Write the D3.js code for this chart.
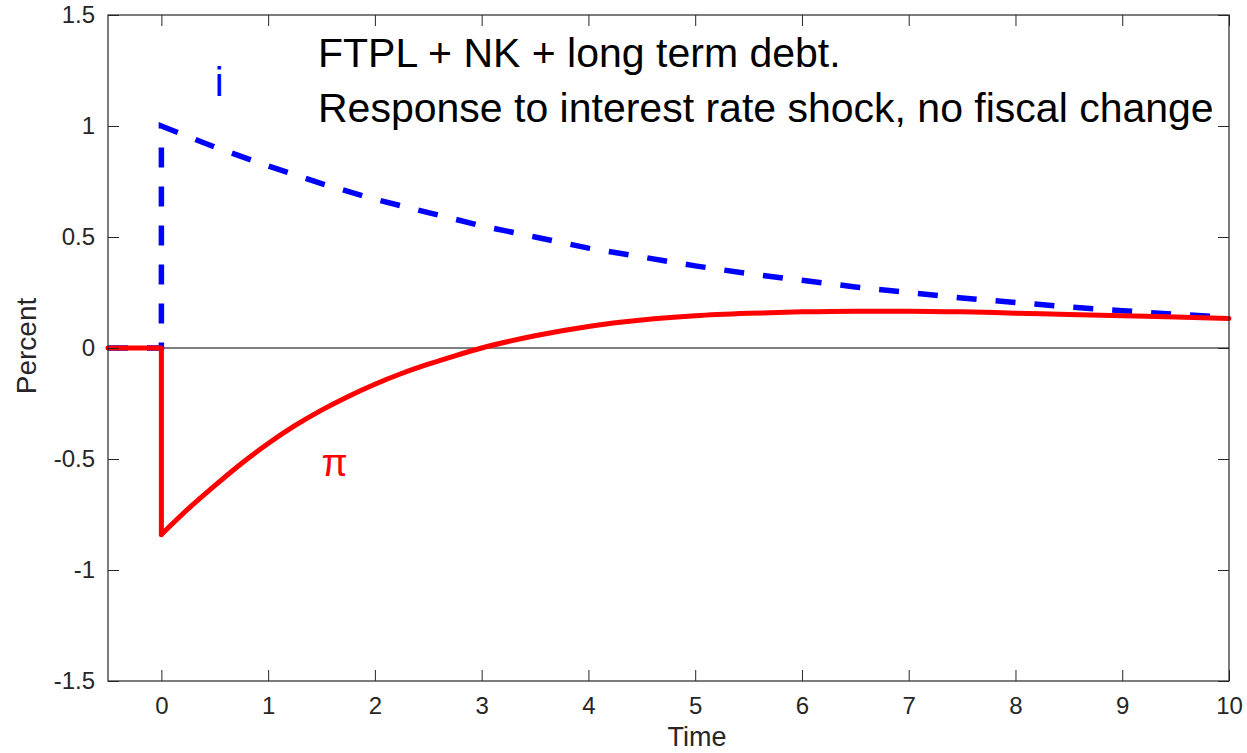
<!DOCTYPE html>
<html lang="en">
<head>
  <meta charset="UTF-8">
  <title>FTPL + NK + long term debt</title>
  <script src="https://d3js.org/d3.v7.min.js"></script>
  <style>
    body { margin: 0; padding: 0; background: #fff; }
    svg { display: block; font-family: "Liberation Sans", Arial, sans-serif; }
  </style>
</head>
<body>
  <div id="chart"></div>
  <script>
    // Time grid (t = 0 appears twice so the jump is drawn vertical)
    const timeI  = [-0.5, 0, 0, 0.5, 1, 1.5, 2, 2.5, 3, 3.5, 4, 4.5, 5, 5.5, 6, 6.5, 7, 7.5, 8, 8.5, 9, 9.5, 10];
    const rateI  = [0, 0, 1.0, 0.905, 0.82, 0.74, 0.67, 0.61, 0.55, 0.50, 0.45, 0.41, 0.37, 0.335, 0.305, 0.275, 0.25, 0.225, 0.205, 0.185, 0.168, 0.152, 0.138];

    const timePi = [-0.5, 0, 0, 0.25, 0.5, 0.75, 1, 1.25, 1.5, 1.75, 2, 2.25, 2.5, 2.75, 3, 3.5, 4, 4.5, 5, 5.5, 6, 6.5, 7, 7.5, 8, 8.5, 9, 9.5, 10];
    const infl   = [0, 0, -0.84, -0.725, -0.62, -0.52, -0.43, -0.35, -0.28, -0.218, -0.163, -0.115, -0.073, -0.035, 0.0, 0.055, 0.097, 0.126, 0.145, 0.156, 0.163, 0.166, 0.166, 0.163, 0.157, 0.151, 0.145, 0.14, 0.133];

    const xTicks = [0, 1, 2, 3, 4, 5, 6, 7, 8, 9, 10];
    const yTicks = [-1.5, -1, -0.5, 0, 0.5, 1, 1.5];

    const titleLines = ["FTPL + NK + long term debt.", "Response to interest rate shock, no fiscal change"];

    const width = 1247, height = 753;
    const m = { left: 108, right: 1229, top: 15, bottom: 681 };
    const axisColor = "#262626";

    const x = d3.scaleLinear().domain([-0.5, 10]).range([m.left, m.right]);
    const y = d3.scaleLinear().domain([-1.5, 1.5]).range([m.bottom, m.top]);

    const svg = d3.create("svg")
      .attr("width", width)
      .attr("height", height);

    const line = d3.line().x(d => x(d[0])).y(d => y(d[1]));
    const smooth = d3.line().x(d => x(d[0])).y(d => y(d[1])).curve(d3.curveMonotoneX);

    // zero line
    svg.append("path")
      .attr("d", line([[-0.5, 0], [10, 0]]))
      .attr("stroke", "#000")
      .attr("stroke-width", 1)
      .attr("fill", "none");

    // interest rate, dashed blue
    svg.append("path")
      .attr("d", line(timeI.map((t, k) => [t, rateI[k]])))
      .attr("fill", "none")
      .attr("stroke", "#0000ff")
      .attr("stroke-width", 5.5)
      .attr("stroke-dasharray", "20,19");

    // inflation, solid red: the step is straight, the rest smooth
    const piPts = timePi.map((t, k) => [t, infl[k]]);
    const red = svg.append("g")
      .attr("fill", "none")
      .attr("stroke", "#ff0000")
      .attr("stroke-width", 5)
      .attr("stroke-linejoin", "round")
      .attr("stroke-linecap", "round");
    red.append("path").attr("d", line(piPts.slice(0, 3)));
    red.append("path").attr("d", smooth(piPts.slice(2)));

    // axes (ticks pointing inward, box on)
    const tickLen = 11;
    svg.append("g")
      .attr("transform", `translate(0,${m.bottom})`)
      .call(d3.axisBottom(x).tickValues(xTicks).tickSize(-tickLen).tickPadding(16).tickFormat(d3.format("d")))
      .call(g => g.select(".domain").remove())
      .call(g => g.selectAll("line").attr("stroke", axisColor))
      .call(g => g.selectAll("text").attr("font-size", 24).attr("fill", axisColor));

    svg.append("g")
      .attr("transform", `translate(0,${m.top})`)
      .call(d3.axisTop(x).tickValues(xTicks).tickSize(-tickLen).tickFormat(""))
      .call(g => g.select(".domain").remove())
      .call(g => g.selectAll("line").attr("stroke", axisColor));

    svg.append("g")
      .attr("transform", `translate(${m.left},0)`)
      .call(d3.axisLeft(y).tickValues(yTicks).tickSize(-tickLen).tickPadding(13).tickFormat(d => String(d)))
      .call(g => g.select(".domain").remove())
      .call(g => g.selectAll("line").attr("stroke", axisColor))
      .call(g => g.selectAll("text").attr("font-size", 24).attr("fill", axisColor));

    svg.append("g")
      .attr("transform", `translate(${m.right},0)`)
      .call(d3.axisRight(y).tickValues(yTicks).tickSize(-tickLen).tickFormat(""))
      .call(g => g.select(".domain").remove())
      .call(g => g.selectAll("line").attr("stroke", axisColor));

    svg.append("rect")
      .attr("x", m.left).attr("y", m.top)
      .attr("width", m.right - m.left).attr("height", m.bottom - m.top)
      .attr("fill", "none")
      .attr("stroke", axisColor)
      .attr("stroke-width", 1.2);

    // axis labels
    svg.append("text")
      .attr("x", 697)
      .attr("y", 746)
      .attr("text-anchor", "middle")
      .attr("font-size", 27)
      .attr("fill", axisColor)
      .text("Time");

    svg.append("text")
      .attr("transform", `translate(36,346) rotate(-90)`)
      .attr("text-anchor", "middle")
      .attr("font-size", 28)
      .attr("fill", axisColor)
      .text("Percent");

    // annotations
    svg.append("g")
      .selectAll("text")
      .data(titleLines)
      .join("text")
      .attr("x", 318)
      .attr("y", (d, k) => 67 + k * 55)
      .attr("font-size", 41)
      .attr("fill", "#000")
      .text(d => d);

    svg.append("text")
      .attr("x", x(0.5))
      .attr("y", 96)
      .attr("font-size", 40)
      .attr("fill", "#0000ff")
      .text("i");

    svg.append("text")
      .attr("x", x(1.5))
      .attr("y", 476)
      .attr("font-size", 38)
      .attr("fill", "#ff0000")
      .text("π");

    document.getElementById("chart").appendChild(svg.node());
  </script>
</body>
</html>
